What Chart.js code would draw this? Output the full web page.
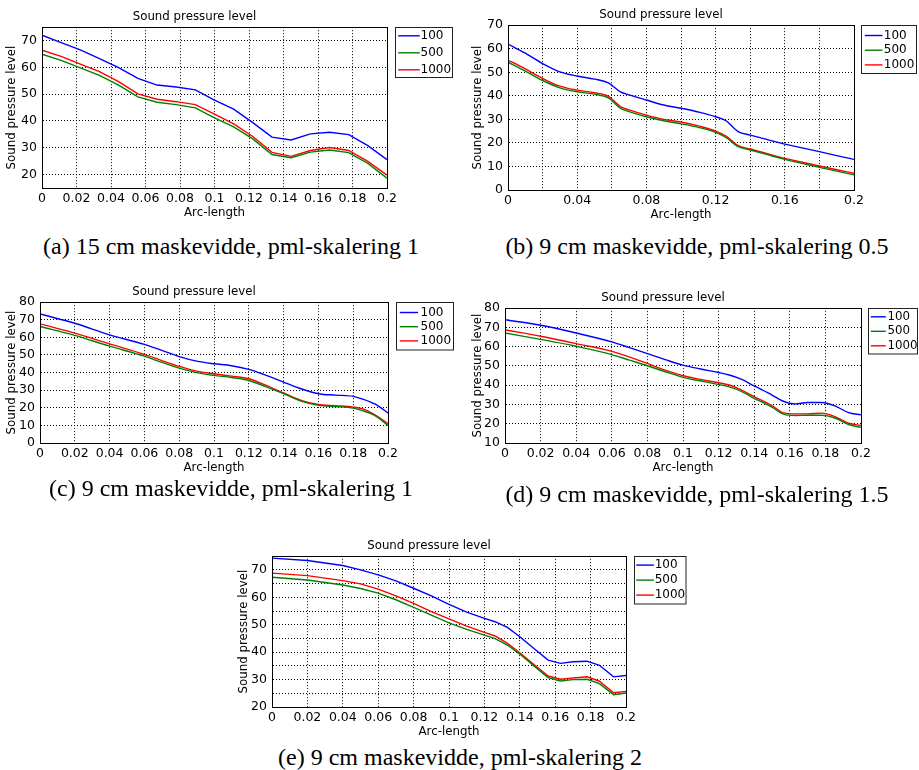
<!DOCTYPE html>
<html lang="no">
<head>
    <meta charset="UTF-8">
    <title>Sound pressure level</title>
    <script src="https://cdn.jsdelivr.net/npm/chart.js"></script>
    <style>
        body {
            margin: 0;
            width: 919px;
            height: 770px;
            overflow: hidden;
            background: #fff;
            position: relative;
        }
        .plot {
            position: absolute;
        }
        .cap {
            position: absolute;
            font-family: "Liberation Serif", serif;
            font-size: 24px;
            color: #000;
            white-space: nowrap;
            transform: translate(-50%, -50%);
        }
    </style>
</head>
<body>
    <div class="plot" style="left:2px; top:3px; width:455px; height:219px;"><canvas id="chartA"></canvas></div>
    <div class="plot" style="left:468px; top:1px; width:456px; height:223px;"><canvas id="chartB"></canvas></div>
    <div class="plot" style="left:0px; top:278px; width:458px; height:199px;"><canvas id="chartC"></canvas></div>
    <div class="plot" style="left:465px; top:284px; width:466px; height:193px;"><canvas id="chartD"></canvas></div>
    <div class="plot" style="left:232px; top:532px; width:464px; height:209px;"><canvas id="chartE"></canvas></div>

    <div class="cap" style="left:231px; top:246px;">(a) 15 cm maskevidde, pml-skalering 1</div>
    <div class="cap" style="left:697px; top:246px;">(b) 9 cm maskevidde, pml-skalering 0.5</div>
    <div class="cap" style="left:231px; top:488px;">(c) 9 cm maskevidde, pml-skalering 1</div>
    <div class="cap" style="left:697px; top:494px;">(d) 9 cm maskevidde, pml-skalering 1.5</div>
    <div class="cap" style="left:460px; top:757px;">(e) 9 cm maskevidde, pml-skalering 2</div>

<script>
    // Tick values
    var xTicks = [0, 0.02, 0.04, 0.06, 0.08, 0.1, 0.12, 0.14, 0.16, 0.18, 0.2];
    var bXLabels = [0, 0.04, 0.08, 0.12, 0.16, 0.2];
    var aYTicks = [20, 30, 40, 50, 60, 70];
    var bYTicks = [0, 10, 20, 30, 40, 50, 60, 70];
    var cYTicks = [0, 10, 20, 30, 40, 50, 60, 70, 80];
    var dYTicks = [10, 20, 30, 40, 50, 60, 70, 80];
    var eYTicks = [20, 25, 30, 35, 40, 45, 50, 55, 60, 65, 70, 75];
    var eYLabels = [20, 30, 40, 50, 60, 70];

    // (a) 15 cm, pml 1
    var aX = [0, 0.0111, 0.0222, 0.0333, 0.0444, 0.0556, 0.0667, 0.0778, 0.0889, 0.1, 0.1111, 0.1222, 0.1333, 0.1444, 0.1556, 0.1667, 0.1778, 0.1889, 0.2];
    var a100 = [72, 69.2, 66.5, 63.3, 59.9, 55.9, 53.4, 52.7, 51.6, 47.8, 44.4, 39.4, 34, 32.9, 35.2, 35.8, 34.9, 30.8, 25.6];
    var a500 = [64.9, 62.6, 59.8, 57, 53.4, 49, 47, 46.1, 44.9, 41.2, 37.8, 33.3, 27.5, 26.3, 28.4, 29.2, 28.2, 24.2, 18.7];
    var a1000 = [66.4, 64.1, 61.2, 58.4, 54.7, 50.1, 48.1, 47.2, 46.1, 42.6, 38.9, 34.2, 28.3, 26.8, 29, 30.1, 29, 24.9, 19.8];

    // (b) 9 cm, pml 0.5
    var bX = [0, 0.01, 0.02, 0.03, 0.04, 0.05, 0.058, 0.065, 0.07, 0.08, 0.09, 0.1, 0.11, 0.12, 0.126, 0.133, 0.14, 0.15, 0.16, 0.17, 0.18, 0.19, 0.2];
    var b100 = [62, 58.1, 53.7, 50.2, 48.4, 47.1, 45.5, 41.7, 40.4, 38.2, 36.1, 34.7, 33.1, 31.1, 29.4, 24.8, 23.3, 21.4, 19.5, 17.9, 16.3, 14.6, 13];
    var b500 = [54.3, 50.5, 46.5, 43.4, 41.7, 40.7, 39.1, 34.7, 33.3, 31.1, 29.4, 28.1, 26.6, 24.5, 22.3, 18.4, 17, 15, 13, 11.3, 9.6, 8, 6.4];
    var b1000 = [55.2, 51.4, 47.4, 44.1, 42.4, 41.3, 39.8, 35.4, 34, 31.8, 30, 28.9, 27.2, 25, 22.9, 18.8, 17.4, 15.4, 13.4, 11.8, 10.2, 8.6, 7.1];

    // (c) 9 cm, pml 1
    var cX = [0, 0.02, 0.04, 0.06, 0.07, 0.08, 0.09, 0.1, 0.11, 0.12, 0.13, 0.14, 0.15, 0.16, 0.17, 0.18, 0.185, 0.193, 0.2];
    var c100 = [73.3, 68, 61.4, 56, 52.6, 49.1, 46.5, 45, 43.9, 41.8, 38.4, 34.6, 30.8, 28, 27.2, 26.5, 25.1, 21.9, 17];
    var c500 = [66.2, 61.1, 55, 49.3, 45.8, 42.5, 40, 38.4, 37.2, 35.5, 31.9, 28, 23.8, 21.4, 20.7, 19.8, 18.5, 15.3, 10];
    var c1000 = [67.7, 62.4, 56.3, 50.3, 46.8, 43.5, 40.8, 39.3, 38, 36.5, 32.7, 28.4, 24.2, 21.9, 21.2, 20.4, 19.5, 15.7, 11];

    // (d) 9 cm, pml 1.5
    var dX = [0, 0.02, 0.04, 0.06, 0.07, 0.08, 0.09, 0.1, 0.11, 0.12, 0.126, 0.133, 0.14, 0.15, 0.156, 0.163, 0.17, 0.178, 0.185, 0.193, 0.2];
    var d100 = [74, 71.1, 67.1, 62.5, 59.5, 56.4, 53.3, 50.4, 48.4, 46.6, 45.3, 43, 39.6, 34.9, 31.8, 30.3, 31, 31, 29.4, 25.8, 24.6];
    var d500 = [67.1, 63.8, 60.2, 55.9, 53, 50.1, 47, 44.1, 42.2, 40.4, 39.1, 36.7, 33.2, 28.6, 25.1, 24.3, 24.4, 24.4, 23.1, 19.6, 18.1];
    var d1000 = [68.8, 65.4, 61.6, 57.6, 54.6, 51.3, 47.8, 44.9, 43, 41.3, 40.1, 37.5, 34.1, 29.4, 25.8, 25.1, 25.1, 25.5, 23.8, 20.3, 19.1];

    // (e) 9 cm, pml 2
    var eX = [0, 0.02, 0.04, 0.05, 0.06, 0.07, 0.08, 0.09, 0.1, 0.11, 0.12, 0.126, 0.133, 0.14, 0.148, 0.156, 0.163, 0.17, 0.178, 0.185, 0.193, 0.2];
    var e100 = [74.3, 73.4, 71.6, 70, 68.2, 66, 63.3, 60.5, 57.4, 54.6, 52.3, 51.1, 49, 45.6, 41.3, 37.1, 35.9, 36.5, 36.7, 35.2, 31, 31.5];
    var e500 = [67.3, 66.3, 64.5, 63.2, 61.5, 59.1, 56.3, 53.5, 50.7, 48.3, 46.2, 44.9, 42.6, 39.3, 35, 30.7, 29.5, 30, 30.1, 28.5, 24.5, 25.1];
    var e1000 = [68.8, 67.9, 66.1, 64.9, 63, 60.5, 57.8, 54.8, 52.1, 49.5, 47.2, 45.9, 43.2, 39.8, 35.5, 31.3, 30.1, 30.6, 31, 29.4, 25.2, 25.7];

    Chart.defaults.font.family = '"DejaVu Sans", sans-serif';
    Chart.defaults.color = '#000';
    Chart.defaults.animation = false;

    // MATLAB style frame round the axes
    var frame = {
        id: 'frame',
        afterDatasetsDraw: function(chart) {
            var a = chart.chartArea, ctx = chart.ctx;
            ctx.save();
            ctx.strokeStyle = '#000';
            ctx.lineWidth = 1;
            ctx.strokeRect(Math.round(a.left) + 0.5, Math.round(a.top) + 0.5,
                Math.round(a.right) - Math.round(a.left), Math.round(a.bottom) - Math.round(a.top));
            ctx.restore();
        }
    };

    // legend with a box, to the right of the axes
    var boxLegend = {
        id: 'boxLegend',
        afterDraw: function(chart, args, o) {
            var ctx = chart.ctx;
            var x0 = Math.round(chart.chartArea.right + o.dx) + 0.5;
            var y0 = Math.round(chart.chartArea.top) + 0.5;
            ctx.save();
            ctx.fillStyle = '#fff';
            ctx.fillRect(x0, y0, o.w, o.h);
            ctx.strokeStyle = '#222';
            ctx.lineWidth = 1;
            ctx.strokeRect(x0, y0, o.w, o.h);
            ctx.font = o.size + 'px "DejaVu Sans"';
            ctx.textBaseline = 'middle';
            chart.data.datasets.forEach(function(ds, i) {
                var y = y0 + o.row0 + i * o.gap;
                ctx.strokeStyle = ds.borderColor;
                ctx.lineWidth = 1.4;
                ctx.beginPath();
                ctx.moveTo(x0 + o.lx, y);
                ctx.lineTo(x0 + o.lx + o.len, y);
                ctx.stroke();
                ctx.fillStyle = '#000';
                ctx.fillText(ds.label, x0 + o.tx, y);
            });
            ctx.restore();
        }
    };

    function has(list, v) {
        return list.some(function(l) { return Math.abs(l - v) < 1e-9; });
    }

    function splChart(id, xs, s100, s500, s1000, c) {
        var pts = function(v) {
            return v.map(function(y, i) { return {x: xs[i], y: y}; });
        };
        var lineMode = c.smooth ? {cubicInterpolationMode: 'monotone'} : {tension: 0};
        var ds = function(label, data, color) {
            return Object.assign({label: label, data: pts(data), borderColor: color, borderWidth: 1.4,
                pointRadius: 0, fill: false}, lineMode);
        };
        return new Chart(document.getElementById(id), {
            type: 'line',
            data: {
                datasets: [
                    ds('100', s100, '#0000ff'),
                    ds('500', s500, '#008000'),
                    ds('1000', s1000, '#ff0000')
                ]
            },
            plugins: [frame, boxLegend],
            options: {
                responsive: true,
                maintainAspectRatio: false,
                events: [],
                layout: { padding: { top: 0, left: 0, bottom: 0, right: 70 } },
                plugins: {
                    legend: { display: false },
                    tooltip: { enabled: false },
                    title: {
                        display: true,
                        text: 'Sound pressure level',
                        color: '#000',
                        font: { size: 11.8, weight: 'normal' },
                        padding: { top: 7, bottom: 3 }
                    },
                    boxLegend: c.legend
                },
                scales: {
                    x: {
                        type: 'linear',
                        min: 0,
                        max: 0.2,
                        afterBuildTicks: function(s) { s.ticks = xTicks.map(function(v) { return {value: v}; }); },
                        afterFit: function(s) { s.height = 34; },
                        ticks: {
                            autoSkip: false,
                            maxRotation: 0,
                            padding: 3,
                            font: { size: 12.5 },
                            callback: function(v) { return has(c.xLabels, v) ? String(+v.toFixed(2)) : ''; }
                        },
                        grid: { color: '#000', lineWidth: 1, drawTicks: false },
                        border: { display: true, color: '#000', dash: [1, 2] },
                        title: { display: true, text: 'Arc-length', font: { size: 11.8 }, padding: { top: 0, bottom: 1.5 } }
                    },
                    y: {
                        min: c.ymin,
                        max: c.ymax,
                        afterBuildTicks: function(s) { s.ticks = c.yTicks.map(function(v) { return {value: v}; }); },
                        afterFit: function(s) { s.width = 40; },
                        ticks: {
                            autoSkip: false,
                            padding: 5,
                            font: { size: 12.5 },
                            callback: function(v) { return has(c.yLabels, v) ? String(v) : ''; }
                        },
                        grid: { color: '#000', lineWidth: 1, drawTicks: false },
                        border: { display: true, color: '#000', dash: [1, 2] },
                        title: { display: true, text: 'Sound pressure level', font: { size: 11.8 }, padding: { top: c.yPad, bottom: 0 } }
                    }
                }
            }
        });
    }

    splChart('chartA', aX, a100, a500, a1000, {
        ymin: 15, ymax: 75, yTicks: aYTicks, yLabels: aYTicks, xLabels: xTicks, yPad: 3.3, smooth: false,
        legend: { dx: 8, w: 57, h: 50, lx: 2.7, len: 21.6, tx: 25, row0: 8.3, gap: 17, size: 12 }
    });
    splChart('chartB', bX, b100, b500, b1000, {
        ymin: 0, ymax: 70, yTicks: bYTicks, yLabels: bYTicks, xLabels: bXLabels, yPad: 3.3, smooth: true,
        legend: { dx: 7.4, w: 55, h: 48, lx: 3.3, len: 17.7, tx: 22.3, row0: 10, gap: 14.7, size: 12 }
    });
    splChart('chartC', cX, c100, c500, c1000, {
        ymin: 0, ymax: 80, yTicks: cYTicks, yLabels: cYTicks, xLabels: xTicks, yPad: 5.3, smooth: true,
        legend: { dx: 8.4, w: 57, h: 47.5, lx: 3.3, len: 18.3, tx: 24, row0: 10, gap: 14.2, size: 12 }
    });
    splChart('chartD', dX, d100, d500, d1000, {
        ymin: 10, ymax: 80, yTicks: dYTicks, yLabels: dYTicks, xLabels: xTicks, yPad: 6.3, smooth: true,
        legend: { dx: 6.7, w: 49, h: 45.5, lx: 2.3, len: 15, tx: 19, row0: 8.3, gap: 14.5, size: 11.8 }
    });
    splChart('chartE', eX, e100, e500, e1000, {
        ymin: 20, ymax: 75, yTicks: eYTicks, yLabels: eYLabels, xLabels: xTicks, yPad: 5, smooth: false,
        legend: { dx: 7.6, w: 51.5, h: 47.5, lx: 1.7, len: 17.7, tx: 20.2, row0: 8.6, gap: 15, size: 12 }
    });
</script>
</body>
</html>
